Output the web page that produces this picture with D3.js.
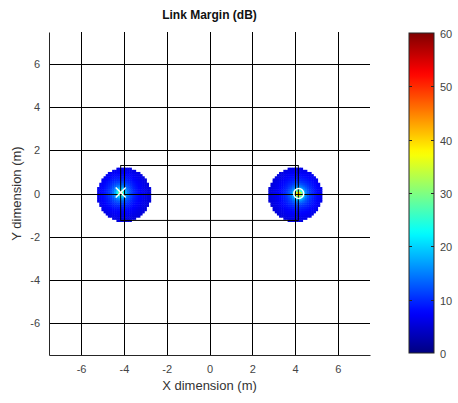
<!DOCTYPE html>
<html><head><meta charset="utf-8">
<script src="https://cdn.jsdelivr.net/npm/d3@7"></script>
<style>body{margin:0;background:#fff}text{font-family:"Liberation Sans",Arial,sans-serif}</style>
</head><body><svg id="c" width="458" height="403"></svg>
<script>
// ---- data ----
const xTicks = [-6,-4,-2,0,2,4,6];
const yTicks = [-6,-4,-2,0,2,4,6];
const cbTicks = [0,10,20,30,40,50,60];
const discCenters = [[-4.0, -0.05], [4.0, -0.05]];
const discRadius = 1.25;
const sources = [[-4.15, 0.05], [4.17, 0.0]];
const sourceMarkers = ["x", "o"];
// radial profile (dB) read at distance 0,0.1,0.2,... m from source
const profileLeft  = [36, 27, 19.5, 15.5, 13, 11.3, 10.0, 9.0, 8.2, 7.5, 7.0, 6.5, 6.1, 5.7, 5.4, 5.1];
const profileRight = [46, 36, 23, 16.5, 13.5, 11.5, 10.1, 9.1, 8.3, 7.6, 7.0, 6.5, 6.1, 5.7, 5.4, 5.1];
const profiles = [profileLeft, profileRight];
const room = {x0:-4.15, x1:4.15, y0:-1.25, y1:1.3};

// ---- layout ----
const svg = d3.select("#c");
const L=49, R=370, T=32, B=355;
const x = d3.scaleLinear().domain([-7.5,7.5]).range([L,R]);
const y = d3.scaleLinear().domain([-7.5,7.5]).range([B,T]);
const cmin=0,cmax=60;

function jet(v){
  const t=Math.max(0,Math.min(1,(v-cmin)/(cmax-cmin)));
  const r=Math.max(0,Math.min(1,1.5-Math.abs(4*t-3)));
  const g=Math.max(0,Math.min(1,1.5-Math.abs(4*t-2)));
  const b=Math.max(0,Math.min(1,1.5-Math.abs(4*t-1)));
  return d3.rgb(r*255,g*255,b*255).toString();
}

// heatmap cells
const cell=0.1;
const cells=[];
discCenters.forEach((c,i)=>{
  const prof=profiles[i], s=sources[i];
  for(let gx=c[0]-1.4; gx<=c[0]+1.4+1e-9; gx+=cell){
    for(let gy=c[1]-1.4; gy<=c[1]+1.4+1e-9; gy+=cell){
      const cx=gx, cy=gy;
      if(Math.hypot(cx-c[0],cy-c[1])>discRadius) continue;
      const d=Math.hypot(cx-s[0],cy-s[1])/0.1;
      const k=Math.min(prof.length-2,Math.floor(d));
      const f=Math.min(1,d-k);
      const v=prof[k]*(1-f)+prof[k+1]*f;
      cells.push({x:cx,y:cy,v});
    }
  }
});
svg.append("g").selectAll("rect").data(cells).join("rect")
  .attr("x",d=>x(d.x-cell/2)).attr("y",d=>y(d.y+cell/2))
  .attr("width",d=>x(d.x+cell/2)-x(d.x-cell/2)+0.5)
  .attr("height",d=>y(d.y-cell/2)-y(d.y+cell/2)+0.5)
  .attr("fill",d=>jet(d.v));

// grid
const grid=svg.append("g").attr("stroke","#000").attr("stroke-width",1);
xTicks.forEach(t=>grid.append("line").attr("x1",Math.round(x(t))+0.5).attr("x2",Math.round(x(t))+0.5).attr("y1",T).attr("y2",B));
yTicks.forEach(t=>grid.append("line").attr("y1",Math.round(y(t))+0.5).attr("y2",Math.round(y(t))+0.5).attr("x1",L).attr("x2",R));

// room rectangle
svg.append("rect").attr("x",x(room.x0)).attr("y",y(room.y1))
  .attr("width",x(room.x1)-x(room.x0)).attr("height",y(room.y0)-y(room.y1))
  .attr("fill","none").attr("stroke","#000").attr("stroke-width",1);

// markers
sources.forEach((s,i)=>{
  const px=x(s[0]), py=y(s[1]);
  if(sourceMarkers[i]==="x"){
    const h=5;
    svg.append("path").attr("d",`M${px-h},${py-h}L${px+h},${py+h}M${px-h},${py+h}L${px+h},${py-h}`)
      .attr("stroke","#fff").attr("stroke-width",1.5);
  } else {
    svg.append("circle").attr("cx",px).attr("cy",py).attr("r",5)
      .attr("fill","none").attr("stroke","#fff").attr("stroke-width",1.5);
  }
});

// axes
const fmt=d=>String(d);
const xAxis=d3.axisBottom(x).tickValues(xTicks).tickSize(0).tickPadding(10).tickFormat(fmt);
const gx=svg.append("g").attr("transform",`translate(0,${B})`).call(xAxis);
const yAxis=d3.axisLeft(y).tickValues(yTicks).tickSize(0).tickPadding(9).tickFormat(fmt);
const gy=svg.append("g").attr("transform",`translate(${L},0)`).call(yAxis);
[gx,gy].forEach(g=>{
  g.select(".domain").attr("stroke","#262626");
  g.selectAll("text").attr("fill","#444").style("font-size","11px").style("font-family","'Liberation Sans',Arial,sans-serif");
});

svg.append("text").attr("x",(L+R)/2).attr("y",390).attr("text-anchor","middle")
  .attr("fill","#333").style("font-size","13px").text("X dimension (m)");
svg.append("text").attr("transform",`translate(21,${(T+B)/2}) rotate(-90)`).attr("text-anchor","middle")
  .attr("fill","#333").style("font-size","13px").text("Y dimension (m)");
svg.append("text").attr("x",(L+R)/2).attr("y",19).attr("text-anchor","middle")
  .attr("fill","#111").style("font-size","12px").style("font-weight","bold").text("Link Margin (dB)");

// colorbar
const cbL=409, cbR=434, cbT=33, cbB=353;
const cy=d3.scaleLinear().domain([cmin,cmax]).range([cbB,cbT]);
const defs=svg.append("defs");
const grad=defs.append("linearGradient").attr("id","jet").attr("x1",0).attr("x2",0).attr("y1",1).attr("y2",0);
d3.range(0,61,1).forEach(v=>grad.append("stop").attr("offset",v/60).attr("stop-color",jet(v)));
svg.append("rect").attr("x",cbL).attr("y",cbT).attr("width",cbR-cbL).attr("height",cbB-cbT)
  .attr("fill","url(#jet)").attr("stroke","#262626").attr("stroke-width",1);
const cbg=svg.append("g");
cbTicks.forEach(t=>{
  const py=Math.round(cy(t))+0.5;
  if(t>0&&t<60){
    cbg.append("line").attr("x1",cbL).attr("x2",cbL+3).attr("y1",py).attr("y2",py).attr("stroke","#262626");
    cbg.append("line").attr("x1",cbR-3).attr("x2",cbR).attr("y1",py).attr("y2",py).attr("stroke","#262626");
  }
  cbg.append("text").attr("x",cbR+6).attr("y",py+4).attr("fill","#444").style("font-size","11px").text(t);
});
</script></body></html>
